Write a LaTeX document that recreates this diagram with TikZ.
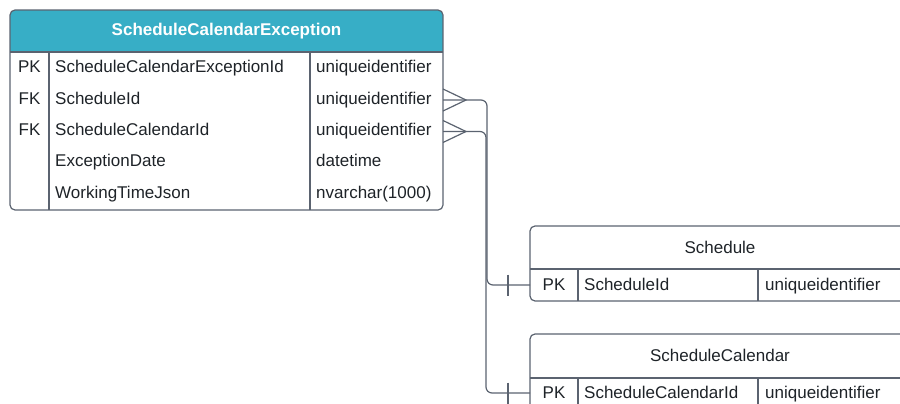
\documentclass[tikz,border=0pt]{standalone}
\usepackage{fontspec}
\setmainfont{Liberation Sans}
\definecolor{hdrteal}{HTML}{37AEC6}
\definecolor{edgegray}{HTML}{5B6370}
\definecolor{txtblack}{HTML}{1E2328}

\begin{document}
\begin{tikzpicture}[x=1pt, y=-1pt,
    cell/.style={anchor=base west, inner sep=0pt, text=txtblack, font=\fontsize{17}{20}\selectfont},
    key/.style={anchor=base, inner sep=0pt, text=txtblack, font=\fontsize{17}{20}\selectfont},
    tbl/.style={draw=edgegray, line width=1.2pt, rounded corners=5pt},
    rel/.style={draw=edgegray, line width=1.2pt, rounded corners=6pt}]

    \useasboundingbox (0,0) rectangle (900,404);
    \clip (0,0) rectangle (900,404);

    % ScheduleCalendarException
    \begin{scope}
        \clip[rounded corners=5pt] (10,10) rectangle (443,210);
        \fill[hdrteal] (10,10) rectangle (443,52);
    \end{scope}
    \draw[tbl] (10,10) rectangle (443,210);
    \draw[edgegray, line width=1.2pt] (10,52) -- (443,52);
    \draw[edgegray, line width=1.2pt] (49,52) -- (49,210);
    \draw[edgegray, line width=1.2pt] (310,52) -- (310,210);
    \node[key, text=white, font=\fontsize{17}{20}\selectfont\bfseries] (ceTitle) at (226.5,36) {ScheduleCalendarException};
    \node[key] (cePK) at (29.5,73) {PK};
    \node[key] (ceFK1) at (29.5,104.3) {FK};
    \node[key] (ceFK2) at (29.5,135.6) {FK};
    \node[cell] (ceId) at (55,73) {ScheduleCalendarExceptionId};
    \node[cell] (ceSchedId) at (55,104.3) {ScheduleId};
    \node[cell] (ceCalId) at (55,135.6) {ScheduleCalendarId};
    \node[cell] (ceDate) at (55,166.9) {ExceptionDate};
    \node[cell] (ceJson) at (55,198.2) {WorkingTimeJson};
    \node[cell] (ceIdType) at (316,73) {uniqueidentifier};
    \node[cell] (ceSchedType) at (316,104.3) {uniqueidentifier};
    \node[cell] (ceCalType) at (316,135.6) {uniqueidentifier};
    \node[cell] (ceDateType) at (316,166.9) {datetime};
    \node[cell] (ceJsonType) at (316,198.2) {nvarchar(1000)};

    % Schedule
    \draw[tbl] (530,226) rectangle (910,301);
    \draw[edgegray, line width=1.2pt] (530,269) -- (910,269);
    \draw[edgegray, line width=1.2pt] (578,269) -- (578,301);
    \draw[edgegray, line width=1.2pt] (758,269) -- (758,301);
    \node[key] (sTitle) at (720,253.5) {Schedule};
    \node[key] (sPK) at (554,290) {PK};
    \node[cell] (sId) at (584,290) {ScheduleId};
    \node[cell] (sIdType) at (765,290) {uniqueidentifier};

    % ScheduleCalendar
    \draw[tbl] (530,334) rectangle (910,430);
    \draw[edgegray, line width=1.2pt] (530,378) -- (910,378);
    \draw[edgegray, line width=1.2pt] (578,378) -- (578,430);
    \draw[edgegray, line width=1.2pt] (758,378) -- (758,430);
    \node[key] (cTitle) at (720,361.5) {ScheduleCalendar};
    \node[key] (cPK) at (554,398) {PK};
    \node[cell] (cId) at (584,398) {ScheduleCalendarId};
    \node[cell] (cIdType) at (765,398) {uniqueidentifier};

    % relations
    \coordinate (ceSchedEnd) at (443,100);
    \coordinate (ceCalEnd) at (443,131.5);
    \coordinate (sEnd) at (530,285);
    \coordinate (cEnd) at (530,393);
    \draw[rel] (ceSchedEnd) -- ++(44,0) |- (sEnd);
    \draw[rel] (ceCalEnd) -- ++(43,0) |- (cEnd);
    \draw[edgegray, line width=1.2pt] ([shift={(0,-11)}]ceSchedEnd) -- ++(23,11) -- ([shift={(0,11)}]ceSchedEnd);
    \draw[edgegray, line width=1.2pt] ([shift={(0,-11)}]ceCalEnd) -- ++(23,11) -- ([shift={(0,11)}]ceCalEnd);
    \draw[edgegray, line width=1.2pt] ([shift={(-22,-10.5)}]sEnd) -- ++(0,21);
    \draw[edgegray, line width=1.2pt] ([shift={(-22,-10.5)}]cEnd) -- ++(0,21);

\end{tikzpicture}
\end{document}
